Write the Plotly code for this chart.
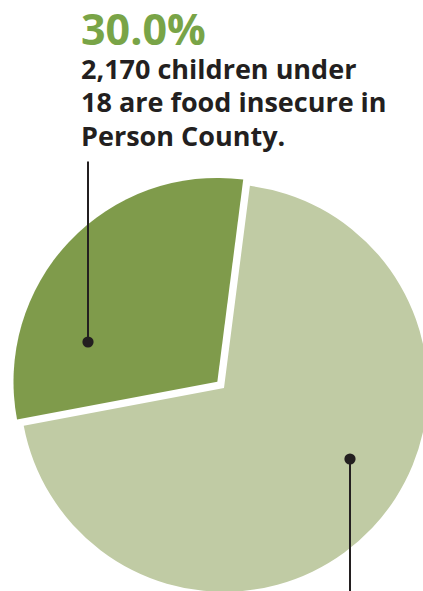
import plotly.graph_objects as go

# ---- data ----
labels = ["Food insecure children", "Other children"]
values = [30.0, 70.0]
pct_label = "30.0%"
caption_lines = ["2,170 children under", "18 are food insecure in", "Person County."]

slice_colors = ["#7f9b4b", "#c0cba4"]
green_text = "#79a447"
dark_text = "#231f20"

# figure slightly larger than the window so the pie is clipped at the edges
W, H = 440, 605

def px(x):
    return x / W

def py(y):
    return 1 - y / H

fig = go.Figure()
fig.add_trace(go.Pie(
    labels=labels,
    values=values,
    sort=False,
    direction="clockwise",
    rotation=-100.7,
    pull=[0.045, 0],
    marker=dict(colors=slice_colors, line=dict(width=0)),
    textinfo="none",
    hoverinfo="skip",
    showlegend=False,
    domain=dict(x=[px(11), px(437)], y=[py(601), py(175)]),
))

font_family = "Open Sans"

fig.add_annotation(
    x=px(79), y=py(29), xref="paper", yref="paper",
    text="<b>%s</b>" % pct_label, showarrow=False,
    xanchor="left", yanchor="middle",
    font=dict(family=font_family, size=43, color=green_text),
)
baselines = [68, 101, 135]
for line, yy in zip(caption_lines, baselines):
    fig.add_annotation(
        x=px(79), y=py(yy), xref="paper", yref="paper",
        text="<b>%s</b>" % line, showarrow=False,
        xanchor="left", yanchor="middle",
        font=dict(family=font_family, size=27, color=dark_text),
    )

# leader lines with dots
fig.add_annotation(
    x=px(88), y=py(342), xref="paper", yref="paper",
    text="", showarrow=True, ax=0, ay=-182,
    arrowhead=6, arrowsize=1.4, arrowwidth=2, arrowcolor=dark_text, standoff=0,
)
fig.add_annotation(
    x=px(350), y=py(459), xref="paper", yref="paper",
    text="", showarrow=True, ax=0, ay=150,
    arrowhead=6, arrowsize=1.4, arrowwidth=2, arrowcolor=dark_text, standoff=0,
)

fig.update_layout(
    width=W, height=H,
    margin=dict(l=0, r=0, t=0, b=0),
    paper_bgcolor="white",
    plot_bgcolor="white",
)

fig.write_html(
    "out.html",
    config={"displayModeBar": False},
    post_script="document.body.style.margin='0';document.body.style.overflow='hidden';document.documentElement.style.overflow='hidden';",
)
